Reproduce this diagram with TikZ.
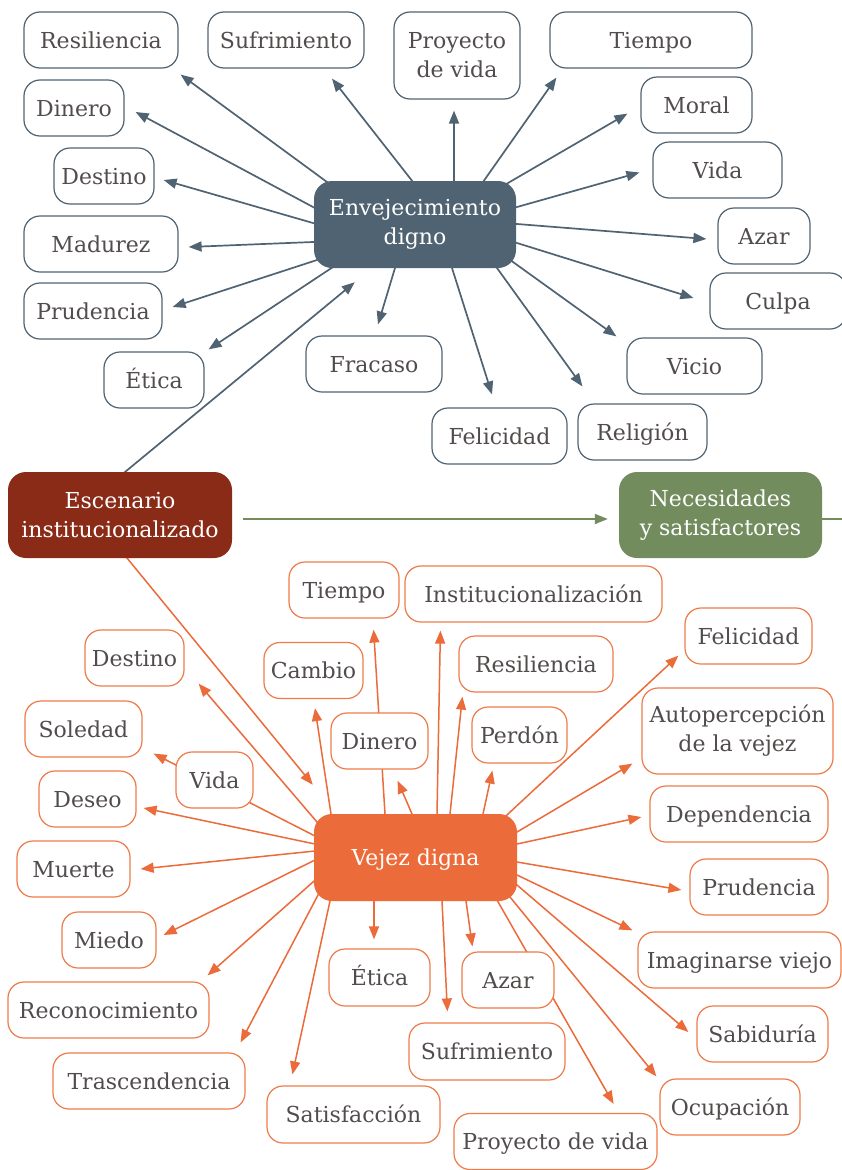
\documentclass[tikz,border=0pt]{standalone}
\usepackage{fontspec}
\setmainfont{DejaVu Serif}
\usetikzlibrary{arrows.meta,calc}
\pgfdeclarelayer{bg}
\pgfsetlayers{bg,main}
\definecolor{slate}{HTML}{506372}
\definecolor{txtgray}{HTML}{524C4C}
\definecolor{brick}{HTML}{8A2B17}
\definecolor{sage}{HTML}{728C5E}
\definecolor{tangerine}{HTML}{EC6B3A}
\definecolor{tangline}{HTML}{EF7B4B}
\newcommand\lblfont{\fontsize{22}{29}\selectfont}
\begin{document}
\begin{tikzpicture}[x=1pt,y=-1pt,
  box/.style={fill=white, line width=1.2pt, rounded corners=16pt, text=txtgray,
    font=\lblfont, inner sep=0pt, align=center, minimum height=56,
    text height=17.5pt, text depth=1.5pt},
  twolines/.style={text height={}, text depth={}},
  sbox/.style={box, draw=slate},
  obox/.style={box, draw=tangline},
  hub/.style={rounded corners=18pt, text=white, font=\lblfont, inner sep=0pt,
    align=center, minimum height=86},
  tip/.style={-{Triangle[length=13pt,width=10pt]}, shorten <=-6pt},
  sarr/.style={tip, draw=slate, line width=1.7pt},
  oarr/.style={tip, draw=tangerine, line width=1.5pt},
  garr/.style={draw=sage, line width=1.7pt},
]
\useasboundingbox (0,0) rectangle (841,1170);
\begin{pgfonlayer}{bg}
  \fill[white] (0,0) rectangle (841,1170);
\end{pgfonlayer}

% ---------- central hubs ----------
\node[hub, fill=slate, minimum width=202, minimum height=87] (env) at (415,224.5) {Envejecimiento\\digno};
\node[hub, fill=brick, minimum width=224] (esc) at (120,515) {Escenario\\institucionalizado};
\node[hub, fill=sage, minimum width=203] (nec) at (720.5,515) {Necesidades\\y satisfactores};
\node[hub, fill=tangerine, minimum width=203, minimum height=87, text height=17.5pt, text depth=1.5pt] (vej) at (415.5,857.5) {Vejez digna};

% ---------- upper cluster ----------
\node[sbox, minimum width=154] (res) at (101,40) {Resiliencia};
\node[sbox, minimum width=156] (suf) at (286,40) {Sufrimiento};
\node[sbox, twolines, minimum width=126, minimum height=87] (pro) at (457,55.5) {Proyecto\\de vida};
\node[sbox, minimum width=202] (tie) at (651,40) {Tiempo};
\node[sbox, minimum width=111] (mor) at (696.5,105) {Moral};
\node[sbox, minimum width=129] (vid) at (717.5,170) {Vida};
\node[sbox, minimum width=92] (aza) at (764,236) {Azar};
\node[sbox, minimum width=136] (cul) at (778,301) {Culpa};
\node[sbox, minimum width=100] (din) at (74,108) {Dinero};
\node[sbox, minimum width=100] (des) at (104,176) {Destino};
\node[sbox, minimum width=154] (mad) at (101,244) {Madurez};
\node[sbox, minimum width=138] (pru) at (93,311) {Prudencia};
\node[sbox, minimum width=100] (eti) at (154,380) {Ética};
\node[sbox, minimum width=136] (fra) at (374,364) {Fracaso};
\node[sbox, minimum width=135] (fel) at (499.5,436) {Felicidad};
\node[sbox, minimum width=129] (rel) at (642.5,432) {Religión};
\node[sbox, minimum width=135] (vic) at (694.5,366) {Vicio};

% ---------- lower cluster ----------
\node[obox, minimum width=110] (tie2) at (344,590) {Tiempo};
\node[obox, minimum width=257] (ins) at (533.5,594) {Institucionalización};
\node[obox, minimum width=99] (des2) at (134.5,658) {Destino};
\node[obox, minimum width=99] (cam) at (313.5,670.5) {Cambio};
\node[obox, minimum width=117] (sol) at (83.5,729) {Soledad};
\node[obox, minimum width=97] (din2) at (379.5,741) {Dinero};
\node[obox, minimum width=77] (vid2) at (214.5,780) {Vida};
\node[obox, minimum width=97] (dse) at (87.5,799) {Deseo};
\node[obox, minimum width=113] (mue) at (73.5,869) {Muerte};
\node[obox, minimum width=154] (res2) at (536,664) {Resiliencia};
\node[obox, minimum width=95] (per) at (519.5,735) {Perdón};
\node[obox, minimum width=127] (fel2) at (748.5,636) {Felicidad};
\node[obox, twolines, minimum width=191, minimum height=86] (aut) at (737.5,731) {Autopercepción\\de la vejez};
\node[obox, minimum width=178] (dep) at (739,814) {Dependencia};
\node[obox, minimum width=138] (pru2) at (759,887) {Prudencia};
\node[obox, minimum width=203] (ima) at (739.5,960) {Imaginarse viejo};
\node[obox, minimum width=131] (sab) at (762.5,1034) {Sabiduría};
\node[obox, minimum width=140] (ocu) at (730,1107) {Ocupación};
\node[obox, minimum width=203] (pdv) at (555.5,1141.5) {Proyecto de vida};
\node[obox, minimum width=92] (aza2) at (508,980) {Azar};
\node[obox, minimum width=156, minimum height=57] (suf2) at (487,1051.5) {Sufrimiento};
\node[obox, minimum width=101, minimum height=57] (eti2) at (379.5,977.5) {Ética};
\node[obox, minimum width=173, minimum height=57] (sat) at (353.5,1114.5) {Satisfacción};
\node[obox, minimum width=94] (mie) at (109,940) {Miedo};
\node[obox, minimum width=201] (rec) at (108.5,1010) {Reconocimiento};
\node[obox, minimum width=192] (tra) at (149,1081) {Trascendencia};

\coordinate (out) at (850,519);

\begin{pgfonlayer}{bg}
% upper connectors
\draw[sarr] ($(env.center)+(-88,-42.5)$) -- ($(res.south east)+(2,6)$);
\draw[sarr] ($(env.center)+(-2,-42.5)$) -- ($(suf.south)+(46,10)$);
\draw[sarr] ($(env.center)+(39,-43.5)$) -- ($(pro.south)+(-3,11)$);
\draw[sarr] ($(env.center)+(68,-42.5)$) -- ($(tie.south west)+(7,9)$);
\draw[sarr] ($(env.center)+(93,-41.5)$) -- ($(mor.south west)+(-13,-20)$);
\draw[sarr] ($(env.center)+(102,-17.5)$) -- ($(vid.west)+(-13,2.5)$);
\draw[sarr] ($(env.center)+(102,-0.5)$) -- ($(aza.west)+(-11,3)$);
\draw[sarr] ($(env.center)+(102,18.5)$) -- ($(cul.west)+(-16,-3)$);
\draw[sarr] ($(env.center)+(98,37.5)$) -- ($(vic.north west)+(-10,-1)$);
\draw[sarr] ($(env.center)+(82,43.5)$) -- ($(rel.north west)+(5,-17)$);
\draw[sarr] ($(env.center)+(37,43.5)$) -- ($(fel.north)+(-7.5,-13)$);
\draw[sarr] ($(env.center)+(-20,43.5)$) -- ($(fra.north)+(4,-11)$);
\draw[sarr] ($(env.center)+(-82,42.5)$) -- ($(eti.north east)+(4,-2)$);
\draw[sarr] ($(env.center)+(-98,35.5)$) -- ($(pru.east)+(10,-4)$);
\draw[sarr] ($(env.center)+(-102,17.5)$) -- ($(mad.east)+(10,3)$);
\draw[sarr] ($(env.center)+(-102,-1.5)$) -- ($(des.east)+(9,4)$);
\draw[sarr] ($(env.center)+(-102,-17.5)$) -- ($(din.east)+(11,4)$);
\draw[sarr] ($(esc.center)+(5,-43)$) -- ($(env.south west)+(41,14)$);

% horizontal link
\draw[garr, -{Triangle[length=13pt,width=10pt]}] ($(esc.east)+(11,4)$) -- ($(nec.west)+(-11,4)$);
\draw[garr] ($(nec.east)+(0,4)$) -- (out);

% lower connectors
\draw[oarr] ($(esc.center)+(7,43)$) -- ($(vej.north west)+(-1,-29)$);
\draw[oarr] ($(vej.center)+(-98.5,-35.5)$) -- ($(des2.south east)+(14,-3)$);
\draw[oarr] ($(vej.center)+(-100.5,-21.5)$) -- ($(sol.south east)+(11,-4)$);
\draw[oarr] ($(vej.center)+(-100.5,-13.5)$) -- ($(dse.east)+(7,9)$);
\draw[oarr] ($(vej.center)+(-100.5,-6.5)$) -- ($(mue.east)+(10,0)$);
\draw[oarr] ($(vej.center)+(-102.5,3.5)$) -- ($(mie.east)+(7,-5)$);
\draw[oarr] ($(vej.center)+(-102.5,24.5)$) -- ($(rec.north east)+(-2,-6)$);
\draw[oarr] ($(vej.center)+(-97.5,37.5)$) -- ($(tra.north east)+(-5,-10)$);
\draw[oarr] ($(vej.center)+(-85.5,43.5)$) -- ($(sat.north west)+(26,-11)$);
\draw[oarr] ($(vej.center)+(-41.5,43.5)$) -- ($(eti2.north)+(-5.5,-9)$);
\draw[oarr] ($(vej.center)+(26.5,43.5)$) -- ($(suf2.north west)+(39,-11)$);
\draw[oarr] ($(vej.center)+(50.5,43.5)$) -- ($(aza2.north west)+(11,-5)$);
\draw[oarr] ($(vej.center)+(81.5,42.5)$) -- ($(pdv.north east)+(-44,-9)$);
\draw[oarr] ($(vej.center)+(94.5,39.5)$) -- ($(ocu.north west)+(-3,-2)$);
\draw[oarr] ($(vej.center)+(101.5,27.5)$) -- ($(sab.west)+(-8,-2)$);
\draw[oarr] ($(vej.center)+(101.5,17.5)$) -- ($(ima.north west)+(-5,-1)$);
\draw[oarr] ($(vej.center)+(101.5,4.5)$) -- ($(pru2.west)+(-8,3)$);
\draw[oarr] ($(vej.center)+(101.5,-13.5)$) -- ($(dep.west)+(-8,3)$);
\draw[oarr] ($(vej.center)+(101.5,-25.5)$) -- ($(aut.south west)+(-9,-11)$);
\draw[oarr] ($(vej.center)+(92.5,-43.5)$) -- ($(fel2.south west)+(-6,-9)$);
\draw[oarr] ($(vej.center)+(67.5,-43.5)$) -- ($(per.south west)+(21,7)$);
\draw[oarr] ($(vej.center)+(34.5,-43.5)$) -- ($(res2.south west)+(4,4)$);
\draw[oarr] ($(vej.center)+(21.5,-43.5)$) -- ($(ins.south west)+(36,8)$);
\draw[oarr] ($(vej.center)+(-3.5,-43.5)$) -- ($(din2.south east)+(-31,11)$);
\draw[oarr] ($(vej.center)+(-30.5,-43.5)$) -- ($(tie2.south east)+(-26,11)$);
\draw[oarr] ($(vej.center)+(-84.5,-43.5)$) -- ($(cam.south)+(1.5,9)$);
\end{pgfonlayer}
\end{tikzpicture}
\end{document}
